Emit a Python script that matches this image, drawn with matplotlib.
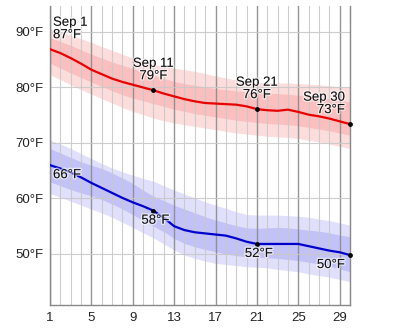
import matplotlib
matplotlib.use("Agg")
import matplotlib.pyplot as plt
import matplotlib.patheffects as pe

plt.rcParams['font.family'] = ['Liberation Sans', 'DejaVu Sans']

days = list(range(1, 31))

# average daily high and its bands (10/25/75/90 percentiles)
high = [86.9, 86.2, 85.3, 84.3, 83.2, 82.4, 81.6, 81.0, 80.5, 80.0,
        79.5, 78.9, 78.4, 77.9, 77.5, 77.2, 77.1, 77.0, 76.9, 76.6,
        76.1, 75.9, 75.8, 76.0, 75.6, 75.1, 74.8, 74.4, 73.9, 73.4]
high_p90 = [90.5, 90.0, 89.4, 88.8, 88.1, 87.4, 86.7, 86.0, 85.3, 84.7,
            84.2, 83.8, 83.5, 83.2, 82.9, 82.5, 82.1, 81.7, 81.3, 81.0,
            80.9, 80.8, 80.8, 80.8, 80.7, 80.6, 80.5, 80.3, 80.2, 80.0]
high_p75 = [89.0, 88.3, 87.6, 86.8, 86.0, 85.3, 84.6, 84.0, 83.4, 82.8,
            82.2, 81.6, 81.1, 80.7, 80.4, 80.1, 79.8, 79.6, 79.4, 79.2,
            79.1, 79.0, 78.9, 78.8, 78.6, 78.4, 78.2, 78.0, 77.7, 77.4]
high_p25 = [84.4, 83.5, 82.6, 81.8, 81.0, 80.2, 79.4, 78.7, 78.1, 77.6,
            77.1, 76.6, 76.1, 75.7, 75.3, 75.0, 74.7, 74.4, 74.1, 73.9,
            73.7, 73.5, 73.4, 73.3, 73.1, 72.8, 72.5, 72.2, 71.8, 71.4]
high_p10 = [82.3, 81.4, 80.5, 79.6, 78.8, 78.0, 77.2, 76.4, 75.7, 75.1,
            74.5, 74.0, 73.6, 73.3, 73.0, 72.7, 72.4, 72.1, 71.8, 71.6,
            71.4, 71.2, 71.1, 71.0, 70.8, 70.5, 70.2, 69.8, 69.4, 69.0]

# average daily low and its bands
low = [66.0, 65.4, 64.7, 63.8, 62.8, 61.9, 61.0, 60.1, 59.3, 58.6,
       57.8, 56.5, 55.0, 54.3, 53.9, 53.7, 53.5, 53.3, 52.8, 52.2,
       51.8, 51.8, 51.8, 51.8, 51.8, 51.4, 51.0, 50.6, 50.3, 49.8]
low_p90 = [70.5, 69.8, 69.0, 68.1, 67.2, 66.3, 65.5, 64.8, 64.2, 63.6,
           63.1, 62.3, 61.5, 60.8, 60.1, 59.4, 58.8, 58.2, 57.6, 57.1,
           57.0, 57.0, 57.0, 56.9, 56.8, 56.6, 56.3, 56.0, 55.6, 55.2]
low_p75 = [69.0, 68.2, 67.4, 66.6, 66.0, 65.4, 64.6, 63.7, 62.7, 61.5,
           60.4, 59.6, 58.8, 58.1, 57.4, 56.7, 56.1, 55.6, 55.1, 54.7,
           54.6, 54.7, 54.8, 54.7, 54.5, 54.3, 54.1, 53.8, 53.4, 53.1]
low_p25 = [63.0, 62.3, 61.6, 61.0, 60.5, 59.8, 59.0, 58.1, 57.1, 56.0,
           55.0, 54.0, 52.8, 51.9, 51.3, 50.8, 50.4, 50.0, 49.7, 49.5,
           49.4, 49.3, 49.2, 49.0, 48.8, 48.5, 48.2, 47.8, 47.3, 46.8]
low_p10 = [60.9, 60.2, 59.5, 58.8, 58.1, 57.4, 56.6, 55.7, 54.8, 53.8,
           52.9, 51.8, 50.7, 49.8, 49.2, 48.7, 48.3, 48.1, 47.9, 47.7,
           47.6, 47.5, 47.2, 47.0, 46.8, 46.4, 46.1, 45.8, 45.4, 45.0]

marked_days = [1, 11, 21, 30]
high_labels = ["Sep 1\n87°F", "Sep 11\n79°F", "Sep 21\n76°F", "Sep 30\n73°F"]
low_labels = ["66°F", "58°F", "52°F", "50°F"]

xticks = [1, 5, 9, 13, 17, 21, 25, 29]
yticks = [50, 60, 70, 80, 90]

fig = plt.figure(figsize=(4, 3.29), dpi=100)
ax = fig.add_axes([0.125, 0.073, 0.75, 0.909])

ax.fill_between(days, high_p10, high_p90, color='#fddcdc', lw=0, zorder=1)
ax.fill_between(days, high_p25, high_p75, color='#fbbfbf', lw=0, zorder=1)
ax.fill_between(days, low_p10, low_p90, color='#e0e0fd', lw=0, zorder=1)
ax.fill_between(days, low_p25, low_p75, color='#c2c2f8', lw=0, zorder=1)

# grid, drawn over the bands but under the lines
for d in days:
    major = d in xticks
    ax.axvline(d, color='#8a8a8a' if major else '#c8c8c8',
               lw=1.0 if major else 0.8, alpha=0.9, zorder=2)
for t in yticks:
    ax.axhline(t, color='#c8c8c8', lw=0.8, alpha=0.9, zorder=2)

ax.plot(days, high, color='#e80000', lw=1.6, zorder=4)
ax.plot(days, low, color='#0000cc', lw=1.6, zorder=4)

hv = [high[d - 1] for d in marked_days]
lv = [low[d - 1] for d in marked_days]
ax.scatter(marked_days[1:], hv[1:], s=6, color='black', zorder=5, clip_on=False)
ax.scatter(marked_days[1:], lv[1:], s=6, color='black', zorder=5, clip_on=False)

halo = [pe.withStroke(linewidth=2, foreground=(1, 1, 1, 0.6))]
has = ['left', 'center', 'center', 'right']
for d, v, s, ha in zip(marked_days, hv, high_labels, has):
    dx = 3 if ha == 'left' else (-5 if ha == 'right' else 0)
    ax.annotate(s, (d, v), xytext=(dx, 8), textcoords='offset pixels',
                ha=ha, va='bottom', fontsize=9.5, color='#111111',
                linespacing=1.05, zorder=6, path_effects=halo)
for d, v, s, ha in zip(marked_days, lv, low_labels, has):
    dx = 3 if ha == 'left' else (-5 if ha == 'right' else 2)
    ax.annotate(s, (d, v), xytext=(dx, -4), textcoords='offset pixels',
                ha=ha, va='top', fontsize=9.5, color='#111111',
                zorder=6, path_effects=halo)

ax.set_xlim(1, 30)
ax.set_ylim(40.8, 94.7)
ax.set_xticks(xticks)
ax.set_yticks(yticks)
ax.set_yticklabels([f"{t}°F" for t in yticks])
ax.tick_params(length=0, labelsize=9.5, colors='#222222', pad=5)
ax.spines['top'].set_visible(False)
for s in ['left', 'bottom', 'right']:
    ax.spines[s].set_color('#888888')
    ax.spines[s].set_linewidth(1.0)

fig.savefig('out.png', dpi=100)
